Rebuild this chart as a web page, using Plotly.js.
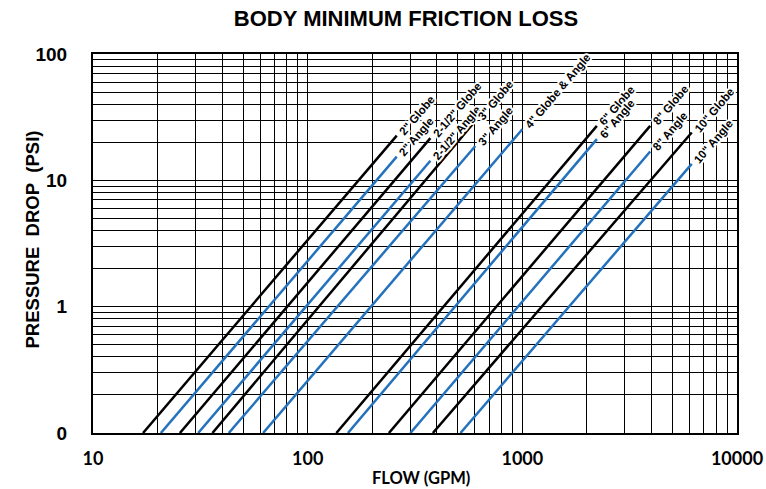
<!DOCTYPE html>
<html>
<head>
<meta charset="utf-8">
<script src="https://cdn.plot.ly/plotly-3.0.1.min.js"></script>
<style>
html,body{margin:0;padding:0;background:#fff;}
#chart{width:766px;height:489px;}
.valve-label .annotation-text{stroke:#ffffff;stroke-width:4px;stroke-linejoin:round;paint-order:stroke fill;}
</style>
</head>
<body>
<div id="chart"></div>
<script>
// Valve body friction-loss curves (flow in GPM, pressure drop in PSI)
const valveNames = ['2" Globe','2" Angle','2-1/2" Globe','2-1/2" Angle','3" Globe','3" Angle','4" Globe & Angle','6" Globe','6" Angle','8" Globe','8" Angle','10" Globe','10" Angle'];
const valveType  = ['Globe','Angle','Globe','Angle','Globe','Angle','Angle','Globe','Angle','Globe','Angle','Globe','Angle'];
const startFlow  = [17.1, 20.7, 25.4, 30.9, 36, 42.9, 62, 136, 154, 239, 301, 383, 515];
const startPsi   = [0.1, 0.1, 0.1, 0.1, 0.1, 0.1, 0.1, 0.1, 0.1, 0.1, 0.1, 0.1, 0.1];
const endFlow    = [260, 260, 373, 373, 604, 604, 1000, 2225, 2225, 3940, 3940, 6155, 6155];
const endPsi     = [22.6, 15.4, 21.6, 14.3, 29.5, 18.7, 25.4, 27.0, 21.2, 27.0, 16.9, 23.9, 13.5];
const xTickVals  = [10, 100, 1000, 10000];
const xTickText  = ['10', '100', '1000', '10000'];
const yTickVals  = [0.1, 1, 10, 100];
const yTickText  = ['0', '1', '10', '100'];

const colors = {Globe: '#000000', Angle: '#2372bd'};
const traces = valveNames.map((n, i) => ({
  type: 'scatter', mode: 'lines', name: n,
  x: [startFlow[i], endFlow[i]], y: [startPsi[i], endPsi[i]],
  line: {color: colors[valveType[i]], width: 2.5},
  hoverinfo: 'name'
}));

const annotations = valveNames.map((n, i) => ({
  x: Math.log10(endFlow[i]), y: Math.log10(endPsi[i]),
  xref: 'x', yref: 'y', text: n, showarrow: false,
  xanchor: 'left', yanchor: 'bottom', textangle: -49.6,
  borderpad: 0, xshift: -1, yshift: -3,
  font: {family: 'Liberation Sans, Arial, sans-serif', size: 11.5, color: '#000', weight: 'bold'}
}));
const nLabels = annotations.length;
annotations.push({
  xref: 'paper', yref: 'paper', x: (32 - 93) / 644, y: (433.5 - 240) / 379,
  xanchor: 'center', yanchor: 'middle', textangle: -90, showarrow: false,
  text: 'PRESSURE\u00a0\u00a0DROP\u00a0\u00a0(PSI)',
  font: {family: 'Liberation Sans, Arial, sans-serif', size: 18.5, color: '#000', weight: 'bold'}
});
annotations.push({
  xref: 'paper', yref: 'paper', x: (421 - 93) / 644, y: (433.5 - 478) / 379,
  xanchor: 'center', yanchor: 'middle', showarrow: false,
  text: 'FLOW (GPM)',
  font: {family: 'Lato, sans-serif', size: 16.5, color: '#000', weight: 'bold'}
});

const gridCol = '#000000';
const layout = {
  width: 766, height: 489,
  margin: {l: 93, r: 29, t: 54, b: 56},
  paper_bgcolor: '#fff', plot_bgcolor: '#fff',
  showlegend: false,
  hovermode: false,
  dragmode: false,
  title: {
    text: 'BODY MINIMUM FRICTION LOSS',
    x: 406/766, xanchor: 'center', xref: 'container',
    y: 1 - 18/489, yanchor: 'middle', yref: 'container',
    font: {family: 'Liberation Sans, Arial, sans-serif', size: 22, color: '#000', weight: 'bold'}
  },
  xaxis: {
    type: 'log', range: [1, 4], fixedrange: true,
    tickvals: xTickVals, ticktext: xTickText,
    tickfont: {family: 'Lato, sans-serif', size: 18, color: '#000', weight: 'bold'},
    ticks: '', ticklabelstandoff: 8,
    showgrid: true, gridcolor: gridCol, gridwidth: 1,
    minor: {dtick: 'D1', showgrid: true, gridcolor: gridCol, gridwidth: 1, ticks: ''},
    showline: true, linecolor: '#000', linewidth: 2, mirror: true,
    zeroline: false
  },
  yaxis: {
    type: 'log', range: [-1, 2], fixedrange: true,
    tickvals: yTickVals, ticktext: yTickText,
    tickfont: {family: 'Liberation Sans, Arial, sans-serif', size: 19, color: '#000', weight: 'bold'},
    ticks: '', ticklabelstandoff: 20,
    showgrid: true, gridcolor: gridCol, gridwidth: 1,
    minor: {dtick: 'D1', showgrid: true, gridcolor: gridCol, gridwidth: 1, ticks: ''},
    showline: true, linecolor: '#000', linewidth: 2, mirror: true,
    zeroline: false
  },
  annotations: annotations
};

Plotly.newPlot('chart', traces, layout, {displayModeBar: false}).then(gd => {
  gd.querySelectorAll('.annotation').forEach(el => {
    const idx = +el.getAttribute('data-index');
    if (idx < nLabels) el.classList.add('valve-label');
  });
});
</script>
</body>
</html>
